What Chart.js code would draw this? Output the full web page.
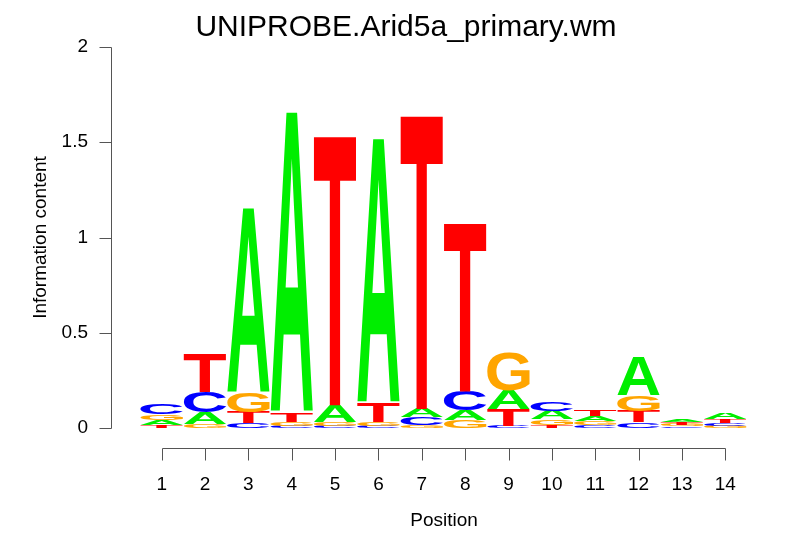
<!DOCTYPE html>
<html>
<head>
<meta charset="utf-8">
<script src="https://cdn.jsdelivr.net/npm/chart.js@4.4.0/dist/chart.umd.min.js"></script>
<style>
  html, body { margin: 0; padding: 0; background: #fff; }
  #wrap { width: 806px; height: 559px; }
</style>
</head>
<body>
<div id="wrap"><canvas id="chart" width="806" height="559"></canvas></div>
<script>
// sequence logo data, information content per letter at each position
const positions = ['1','2','3','4','5','6','7','8','9','10','11','12','13','14'];
const heightA = [0.028, 0.06, 0.97, 1.58, 0.09, 1.39, 0.045, 0.055, 0.1, 0.045, 0.027, 0.2, 0.014, 0.03];
const heightC = [0.055, 0.11, 0.025, 0.01, 0.01, 0.01, 0.04, 0.1, 0.012, 0.05, 0.015, 0.03, 0.008, 0.015];
const heightG = [0.03, 0.02, 0.1, 0.02, 0.02, 0.02, 0.015, 0.04, 0.2, 0.03, 0.02, 0.08, 0.01, 0.012];
const heightT = [0.015, 0.2, 0.06, 0.05, 1.42, 0.1, 1.55, 0.89, 0.085, 0.015, 0.03, 0.06, 0.012, 0.018];
const yTicks = [0, 0.5, 1, 1.5, 2];
const yTickLabels = ['0', '0.5', '1', '1.5', '2'];

const letterColors = { A: '#00ee00', C: '#0000ff', G: '#ffa500', T: '#ff0000' };
const fontName = "'Liberation Sans', Arial, sans-serif";

// stack letters smallest at the bottom, one dataset per rank
const ranks = [[], [], [], []];
const rankLetters = [[], [], [], []];
positions.forEach(function(p, i){
    const col = [
        { l: 'A', h: heightA[i] }, { l: 'C', h: heightC[i] },
        { l: 'G', h: heightG[i] }, { l: 'T', h: heightT[i] }
    ];
    col.sort((a, b) => a.h - b.h);
    col.forEach(function(c, r){
        ranks[r].push(c.h);
        rankLetters[r].push(c.l);
    });
});

const datasets = ranks.map(function(d, r){
    return {
        label: 'rank' + r,
        data: d,
        letters: rankLetters[r],
        backgroundColor: 'rgba(0,0,0,0)',
        borderWidth: 0,
        barPercentage: 1,
        categoryPercentage: 0.98
    };
});

const glyphCache = {};
function glyph(ctx, letter){
    if (glyphCache[letter]) return glyphCache[letter];
    ctx.save();
    ctx.font = 'bold 200px ' + fontName;
    const m = ctx.measureText(letter);
    ctx.restore();
    glyphCache[letter] = {
        left: m.actualBoundingBoxLeft,
        w: m.actualBoundingBoxLeft + m.actualBoundingBoxRight,
        asc: m.actualBoundingBoxAscent,
        h: m.actualBoundingBoxAscent + m.actualBoundingBoxDescent
    };
    return glyphCache[letter];
}

const logoLetters = {
    id: 'logoLetters',
    afterDatasetsDraw(chart){
        const ctx = chart.ctx;
        chart.data.datasets.forEach(function(ds, di){
            const meta = chart.getDatasetMeta(di);
            meta.data.forEach(function(bar, i){
                const p = bar.getProps(['x', 'y', 'base', 'width'], true);
                const top = Math.min(p.y, p.base), h = Math.abs(p.base - p.y);
                if (h < 0.6) return;
                const letter = ds.letters[i];
                const g = glyph(ctx, letter);
                const x0 = p.x - p.width / 2;
                ctx.save();
                ctx.translate(x0, top);
                ctx.scale(p.width / g.w, h / g.h);
                ctx.font = 'bold 200px ' + fontName;
                ctx.textBaseline = 'alphabetic';
                ctx.textAlign = 'left';
                ctx.fillStyle = letterColors[letter];
                ctx.fillText(letter, g.left, g.asc);
                ctx.restore();
            });
        });
    }
};

// R style axes drawn off the plot region
const rAxes = {
    id: 'rAxes',
    afterDraw(chart){
        const ctx = chart.ctx;
        const xs = chart.scales.x, ys = chart.scales.y;
        ctx.save();
        ctx.strokeStyle = '#555';
        ctx.lineWidth = 1;
        ctx.fillStyle = '#000';
        ctx.font = '19px ' + fontName;

        // y axis
        const ax = 111.5;
        ctx.beginPath();
        ctx.moveTo(ax, Math.round(ys.getPixelForValue(0)) + 0.5);
        ctx.lineTo(ax, Math.round(ys.getPixelForValue(2)) + 0.5);
        yTicks.forEach(function(v){
            const y = Math.round(ys.getPixelForValue(v)) + 0.5;
            ctx.moveTo(ax, y);
            ctx.lineTo(ax - 12, y);
        });
        ctx.stroke();
        ctx.textAlign = 'right';
        ctx.textBaseline = 'middle';
        yTicks.forEach(function(v, k){
            ctx.fillText(yTickLabels[k], 88, ys.getPixelForValue(v));
        });

        // x axis
        const ay = 448.5;
        const x1 = Math.round(xs.getPixelForValue(0)) + 0.5;
        const x14 = Math.round(xs.getPixelForValue(positions.length - 1)) + 0.5;
        ctx.beginPath();
        ctx.moveTo(x1, ay);
        ctx.lineTo(x14, ay);
        positions.forEach(function(p, i){
            const x = Math.round(xs.getPixelForValue(i)) + 0.5;
            ctx.moveTo(x, ay);
            ctx.lineTo(x, ay + 12);
        });
        ctx.stroke();
        ctx.textAlign = 'center';
        positions.forEach(function(p, i){
            ctx.fillText(p, xs.getPixelForValue(i), 485);
        });

        // axis titles and main title
        ctx.fillText('Position', (x1 + x14) / 2, 521);
        ctx.save();
        ctx.translate(41, ys.getPixelForValue(1));
        ctx.rotate(-Math.PI / 2);
        ctx.fillText('Information content', 0, 0);
        ctx.restore();
        ctx.font = '30px ' + fontName;
        ctx.fillText('UNIPROBE.Arid5a_primary.wm', 406, 28);
        ctx.restore();
    }
};

new Chart(document.getElementById('chart'), {
    type: 'bar',
    data: { labels: positions, datasets: datasets },
    options: {
        responsive: false,
        animation: false,
        layout: { padding: { left: 140, right: 59, top: 47, bottom: 131 } },
        plugins: { legend: { display: false }, tooltip: { enabled: false }, title: { display: false } },
        scales: {
            x: { stacked: true, display: false },
            y: { stacked: true, display: false, min: 0, max: 2 }
        }
    },
    plugins: [logoLetters, rAxes]
});
</script>
</body>
</html>
